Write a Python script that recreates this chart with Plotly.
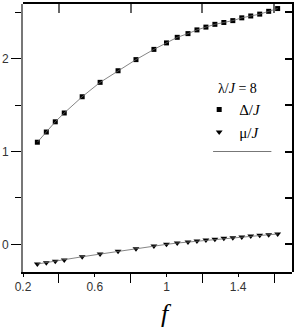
import plotly.graph_objects as go

f_vals = [0.28, 0.33, 0.38, 0.43, 0.53, 0.63, 0.73, 0.83, 0.93, 1.00, 1.06,
          1.12, 1.17, 1.22, 1.27, 1.32, 1.37, 1.42, 1.47, 1.52, 1.57, 1.62]
delta_J = [1.10, 1.21, 1.32, 1.415, 1.59, 1.745, 1.87, 1.99, 2.10, 2.17, 2.23,
           2.27, 2.31, 2.34, 2.37, 2.39, 2.41, 2.44, 2.46, 2.48, 2.51, 2.54]
mu_J = [-0.212, -0.198, -0.183, -0.169, -0.134, -0.105, -0.075, -0.047, -0.018, 0.0, 0.014,
        0.025, 0.036, 0.046, 0.054, 0.065, 0.071, 0.079, 0.089, 0.097, 0.103, 0.111]

x_label_ticks = [0.2, 0.6, 1.0, 1.4]
x_label_text = ["0.2", "0.6", "1", "1.4"]
x_minor_ticks = [0.4, 0.8, 1.2, 1.6]
y_label_ticks = [0, 1, 2]
y_label_text = ["0", "1", "2"]
y_minor_ticks = [0.5, 1.5, 2.5]
y_all_ticks = [0, 0.5, 1, 1.5, 2, 2.5]

XR = [0.2, 1.70]
YR = [-0.298, 2.589]

serif = "Liberation Serif, Times New Roman, serif"

fig = go.Figure()
fig.add_trace(go.Scatter(x=f_vals, y=delta_J, mode="lines", line=dict(color="#666", width=0.8),
                         showlegend=False, hoverinfo="skip", xaxis="x2", yaxis="y2"))
fig.add_trace(go.Scatter(x=f_vals, y=mu_J, mode="lines", line=dict(color="#666", width=0.8),
                         showlegend=False, hoverinfo="skip", xaxis="x2", yaxis="y2"))
fig.add_trace(go.Scatter(x=f_vals, y=delta_J, mode="markers", name="Δ/<i>J</i>",
                         marker=dict(symbol="square", size=5, color="black")))
fig.add_trace(go.Scatter(x=f_vals, y=mu_J, mode="markers", name="μ/<i>J</i>",
                         marker=dict(symbol="triangle-down", size=6, color="black")))

tickfont = dict(family="Liberation Sans, Arial", size=12, color="#333")

fig.update_layout(
    width=296, height=332,
    margin=dict(l=23, r=4, t=4, b=60, autoexpand=False),
    paper_bgcolor="white", plot_bgcolor="rgba(0,0,0,0)",
    showlegend=True,
    legend=dict(
        x=0.655, y=0.735, xanchor="left", yanchor="top",
        font=dict(family=serif, size=15, color="black"),
        title=dict(text="\u2003\u2009λ/<i>J</i> = 8", font=dict(family=serif, size=14, color="black")),
        bgcolor="rgba(0,0,0,0)", itemwidth=30, tracegroupgap=0,
    ),
    xaxis=dict(
        range=XR, tickmode="array", tickvals=x_label_ticks, ticktext=x_label_text,
        ticks="outside", ticklen=3, tickcolor="black", tickwidth=1,
        minor=dict(tickmode="array", tickvals=x_minor_ticks, ticks="outside", ticklen=9,
                   tickcolor="black", tickwidth=1),
        showline=True, linecolor="black", linewidth=1.5, showgrid=False, zeroline=False,
        tickfont=tickfont, automargin=False,
    ),
    xaxis2=dict(
        range=XR, side="top", anchor="y2", domain=[0, 1], tickmode="array", tickvals=x_minor_ticks,
        ticks="inside", ticklen=9, tickcolor="#666", tickwidth=1.5, showticklabels=False,
        showline=True, linecolor="black", linewidth=1.5, showgrid=False, zeroline=False,
        automargin=False,
    ),
    yaxis=dict(
        range=YR, tickmode="array", tickvals=y_label_ticks, ticktext=y_label_text,
        ticks="outside", ticklen=10, tickcolor="black", tickwidth=1,
        minor=dict(tickmode="array", tickvals=y_minor_ticks, ticks="outside", ticklen=6,
                   tickcolor="black", tickwidth=1),
        showline=True, linecolor="#777", linewidth=2, showgrid=False, zeroline=False,
        tickfont=tickfont, automargin=False,
    ),
    yaxis2=dict(
        range=YR, side="right", anchor="x2", domain=[0, 1], tickmode="array", tickvals=y_all_ticks,
        ticks="inside", ticklen=7, tickcolor="black", tickwidth=1.5, showticklabels=False,
        showline=True, linecolor="black", linewidth=1.5, showgrid=False, zeroline=False,
        automargin=False,
    ),
)

# x-axis title
fig.add_annotation(text="<i>f</i>", xref="paper", yref="paper", x=0.535, y=-0.153,
                   xanchor="center", yanchor="middle", showarrow=False,
                   font=dict(family=serif, size=26, color="black"))

# legend underline
fig.add_shape(type="line", xref="x", yref="y", x0=1.26, x1=1.585, y0=1.0, y1=1.0,
              line=dict(color="#777", width=1))

fig.write_html("out.html", config={"displayModeBar": False},
               post_script="document.body.style.margin='0';document.body.style.padding='0';")
